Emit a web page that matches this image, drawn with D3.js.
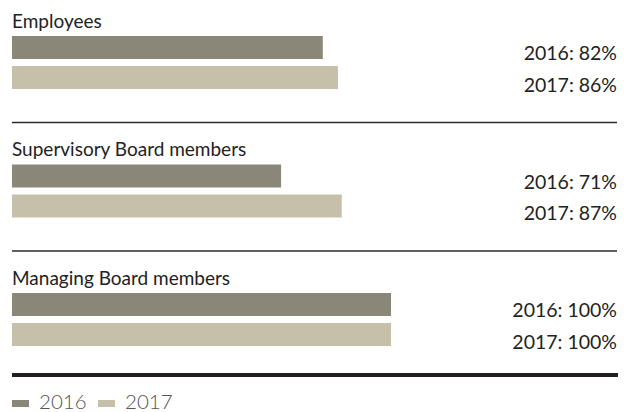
<!DOCTYPE html>
<html>
<head>
<meta charset="utf-8">
<script src="https://cdn.jsdelivr.net/npm/d3@7/dist/d3.min.js"></script>
<style>
  html, body { margin: 0; padding: 0; background: #fff; }
  svg { display: block; }
  text { font-family: Lato, "Open Sans", sans-serif; fill: #222; }
</style>
</head>
<body>
<div id="chart"></div>
<script>
// Share of women/men quota figures per body, 2016 vs 2017 (in %)
const categories = ["Employees", "Supervisory Board members", "Managing Board members"];
const years = ["2016", "2017"];
const values2016 = [82, 71, 100];
const values2017 = [86, 87, 100];

const colors = { "2016": "#8a8778", "2017": "#c6c0aa" };

const width = 630, height = 412;
const svg = d3.select("#chart").append("svg")
  .attr("width", width).attr("height", height);

const x = d3.scaleLinear().domain([0, 100]).range([12, 391]);

// one block per category
const group = d3.scaleBand().domain(categories).range([0, 385.5]);
// the two year bars inside a block
const inner = d3.scaleBand().domain(years).range([36, 89]).paddingInner(7 / 30);

const rows = categories.map((c, i) => ({
  category: c,
  bars: [
    { year: "2016", value: values2016[i] },
    { year: "2017", value: values2017[i] }
  ]
}));

const g = svg.selectAll("g.block").data(rows).join("g")
  .attr("class", "block")
  .attr("transform", d => `translate(0,${group(d.category)})`);

g.append("text")
  .attr("x", 12).attr("y", 27.5)
  .attr("font-size", 19)
  .text(d => d.category);

g.selectAll("rect").data(d => d.bars).join("rect")
  .attr("x", x(0))
  .attr("y", d => inner(d.year))
  .attr("width", d => x(d.value) - x(0))
  .attr("height", inner.bandwidth())
  .attr("fill", d => colors[d.year]);

g.selectAll("text.val").data(d => d.bars).join("text")
  .attr("class", "val")
  .attr("x", 617)
  .attr("y", (d, i) => inner(d.year) + inner.bandwidth() + (i === 0 ? 1 : 2.5))
  .attr("text-anchor", "end")
  .attr("font-size", 19.5)
  .text(d => `${d.year}: ${d.value}%`);

// thin rules between blocks
svg.selectAll("line.sep").data(categories.slice(0, -1)).join("line")
  .attr("class", "sep")
  .attr("x1", 12).attr("x2", 617)
  .attr("y1", d => group(d) + 122.5).attr("y2", d => group(d) + 122.5)
  .attr("stroke", "#2a2a2a").attr("stroke-width", 1.3);

// heavy closing rule
svg.append("line")
  .attr("x1", 12).attr("x2", 618)
  .attr("y1", 375).attr("y2", 375)
  .attr("stroke", "#231f20").attr("stroke-width", 4);

// legend
const legendX = d3.scaleOrdinal().domain(years).range([12, 98]);
const lg = svg.selectAll("g.legend").data(years).join("g")
  .attr("class", "legend")
  .attr("transform", d => `translate(${legendX(d)},0)`);
lg.append("rect")
  .attr("x", 0).attr("y", 400).attr("width", 17).attr("height", 7)
  .attr("fill", d => colors[d]);
lg.append("text")
  .attr("x", 27).attr("y", 408.5)
  .attr("font-size", 20.5)
  .style("font-weight", 300)
  .style("fill", "#555")
  .text(d => d);
</script>
</body>
</html>
